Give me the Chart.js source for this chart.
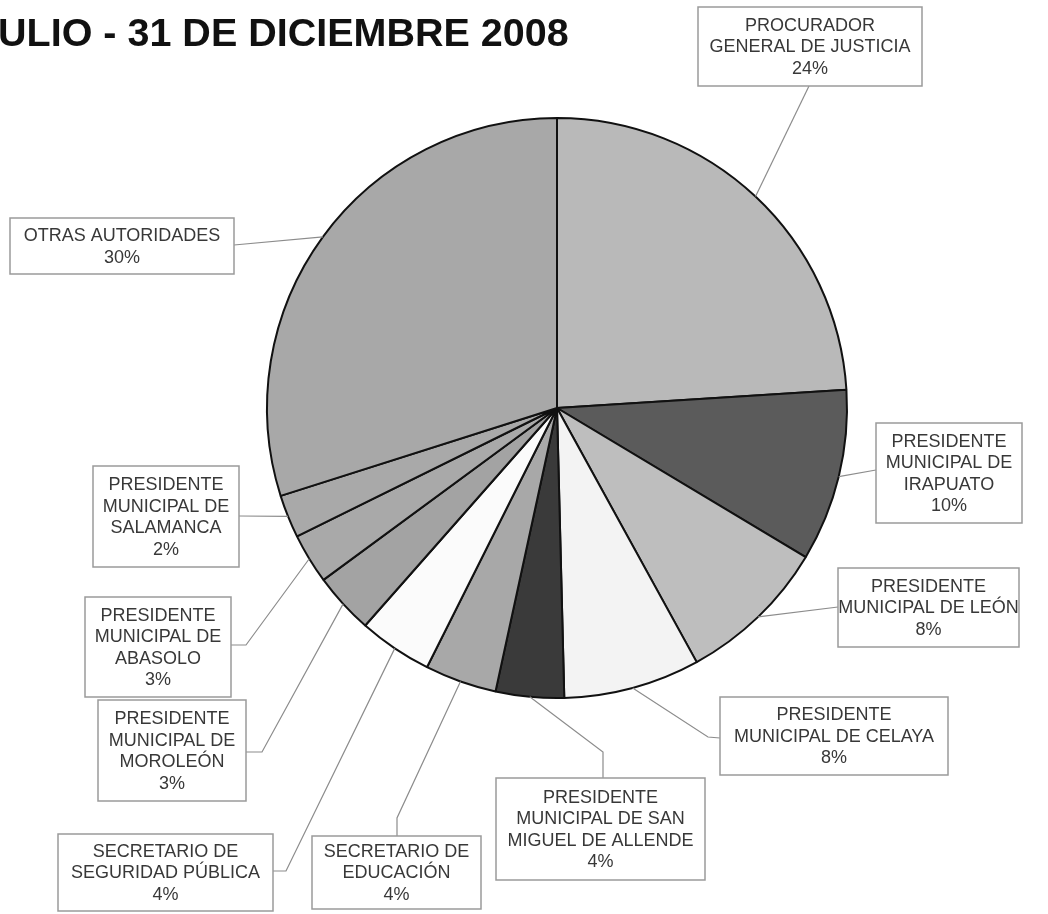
<!DOCTYPE html>
<html>
<head>
<meta charset="utf-8">
<script src="https://cdn.jsdelivr.net/npm/chart.js@4.4.1/dist/chart.umd.min.js"></script>
<style>
  html, body { margin: 0; padding: 0; background: #fff; }
  canvas { display: block; }
</style>
</head>
<body>
<canvas id="pie" width="1048" height="914"></canvas>
<script>
// data (percent of total)
var titleText = "ULIO - 31 DE DICIEMBRE 2008";
var categories = [
    ["PROCURADOR", "GENERAL DE JUSTICIA"],
    ["PRESIDENTE", "MUNICIPAL DE", "IRAPUATO"],
    ["PRESIDENTE", "MUNICIPAL DE LEÓN"],
    ["PRESIDENTE", "MUNICIPAL DE CELAYA"],
    ["PRESIDENTE", "MUNICIPAL DE SAN", "MIGUEL DE ALLENDE"],
    ["SECRETARIO DE", "EDUCACIÓN"],
    ["SECRETARIO DE", "SEGURIDAD PÚBLICA"],
    ["PRESIDENTE", "MUNICIPAL DE", "MOROLEÓN"],
    ["PRESIDENTE", "MUNICIPAL DE", "ABASOLO"],
    ["PRESIDENTE", "MUNICIPAL DE", "SALAMANCA"],
    ["OTRAS AUTORIDADES"]
];
var values = [24.0, 9.6, 8.4, 7.6, 3.8, 4.0, 4.1, 3.4, 2.8, 2.4, 29.9];
var sliceColors = ["#b9b9b9", "#5b5b5b", "#bebebe", "#f3f3f3", "#3a3a3a", "#a8a8a8",
                   "#fbfbfb", "#a3a3a3", "#a9a9a9", "#a9a9a9", "#a8a8a8"];

// label boxes: [x, y, w, h], where the leader line meets the box, optional elbow
var boxLayout = [
    { box: [698, 7, 224, 79],   attach: [809, 86],  elbow: null },
    { box: [876, 423, 146, 100], attach: [876, 470], elbow: null },
    { box: [838, 568, 181, 79], attach: [838, 607], elbow: null },
    { box: [720, 697, 228, 78], attach: [720, 738], elbow: [708, 737] },
    { box: [496, 778, 209, 102], attach: [603, 778], elbow: [603, 752] },
    { box: [312, 836, 169, 73], attach: [397, 836], elbow: [397, 818] },
    { box: [58, 834, 215, 77],  attach: [273, 871], elbow: [286, 871] },
    { box: [98, 700, 148, 101], attach: [246, 752], elbow: [262, 752] },
    { box: [85, 597, 146, 100], attach: [231, 645], elbow: [246, 645] },
    { box: [93, 466, 146, 101], attach: [239, 516], elbow: null },
    { box: [10, 218, 224, 56],  attach: [234, 245], elbow: null }
];

var total = values.reduce(function (a, b) { return a + b; }, 0);

var calloutPlugin = {
    id: "callouts",
    afterDraw: function (chart) {
        var ctx = chart.ctx;
        ctx.save();
        // title, cut off at the left like the scan
        ctx.fillStyle = "#111";
        ctx.font = 'bold 39.5px "Liberation Sans", Arial, sans-serif';
        ctx.textAlign = "left";
        ctx.textBaseline = "alphabetic";
        ctx.fillText(titleText, -2, 46);

        var arcs = chart.getDatasetMeta(0).data;
        arcs.forEach(function (arc, i) {
            var lay = boxLayout[i];
            var p = arc.getProps(["x", "y", "startAngle", "endAngle", "outerRadius"], true);
            var mid = (p.startAngle + p.endAngle) / 2;
            var ax = p.x + Math.cos(mid) * p.outerRadius;
            var ay = p.y + Math.sin(mid) * p.outerRadius;

            // leader line
            ctx.strokeStyle = "#8c8c8c";
            ctx.lineWidth = 1.2;
            ctx.beginPath();
            ctx.moveTo(ax, ay);
            if (lay.elbow) ctx.lineTo(lay.elbow[0], lay.elbow[1]);
            ctx.lineTo(lay.attach[0], lay.attach[1]);
            ctx.stroke();

            // box
            var b = lay.box;
            ctx.fillStyle = "#fff";
            ctx.fillRect(b[0], b[1], b[2], b[3]);
            ctx.strokeStyle = "#9a9a9a";
            ctx.lineWidth = 1.5;
            ctx.strokeRect(b[0], b[1], b[2], b[3]);

            // text
            var lines = categories[i].concat([Math.round(values[i] / total * 100) + "%"]);
            var pitch = 21.5;
            var cx = b[0] + b[2] / 2;
            var y0 = b[1] + b[3] / 2 - (lines.length - 1) * pitch / 2;
            ctx.fillStyle = "#383838";
            ctx.font = '18px "Liberation Sans", Arial, sans-serif';
            ctx.textAlign = "center";
            ctx.textBaseline = "middle";
            lines.forEach(function (t, k) {
                ctx.fillText(t, cx, y0 + k * pitch + 1);
            });
        });
        ctx.restore();
    }
};

new Chart(document.getElementById("pie").getContext("2d"), {
    type: "pie",
    data: {
        labels: categories.map(function (c) { return c.join(" "); }),
        datasets: [{
            data: values,
            backgroundColor: sliceColors,
            borderColor: "#111",
            borderWidth: 2,
            hoverOffset: 0
        }]
    },
    options: {
        responsive: false,
        animation: false,
        events: [],
        layout: { padding: { left: 266, top: 117, right: 200, bottom: 215 } },
        plugins: {
            legend: { display: false },
            tooltip: { enabled: false },
            title: { display: false }
        }
    },
    plugins: [calloutPlugin]
});
</script>
</body>
</html>
